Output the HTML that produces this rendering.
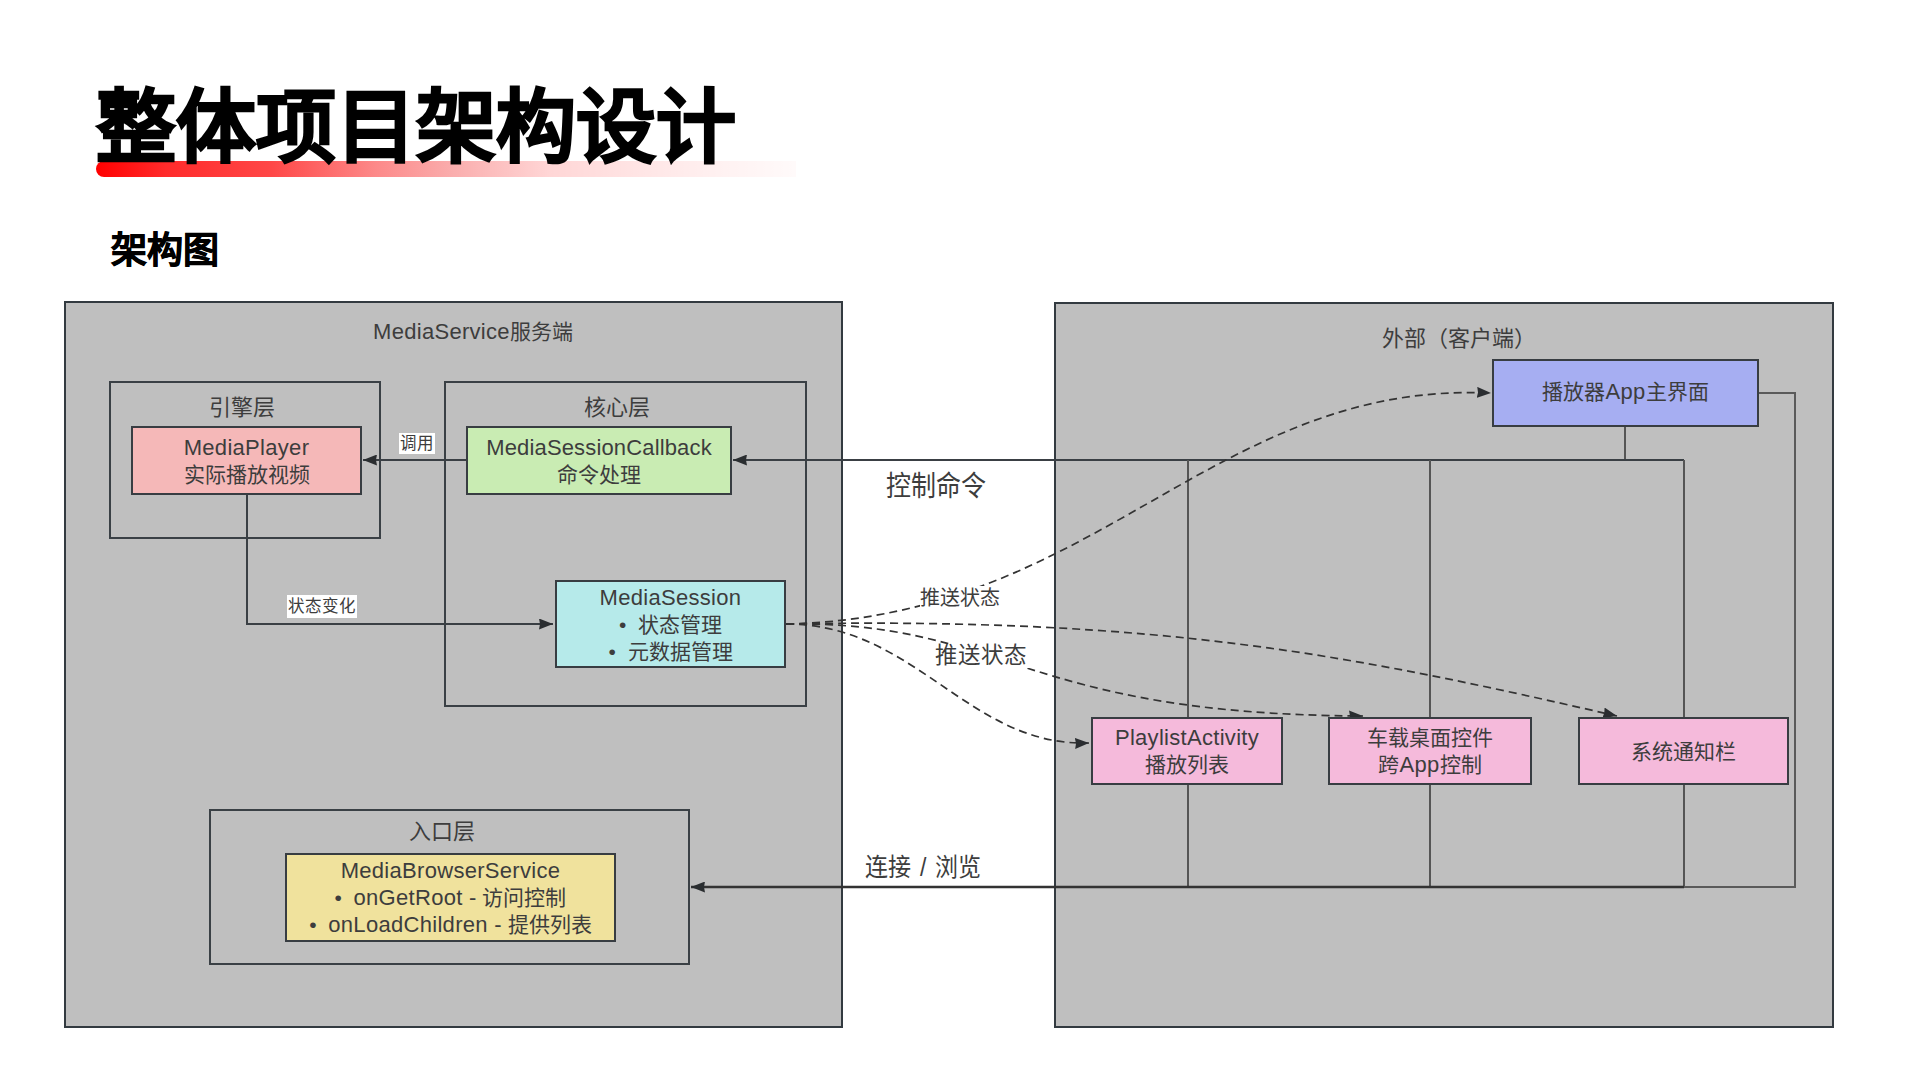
<!DOCTYPE html>
<html lang="zh-CN">
<head>
<meta charset="utf-8">
<style>
html,body{margin:0;padding:0;background:#fff;}
body{width:1912px;height:1073px;position:relative;overflow:hidden;font-family:"Liberation Sans",sans-serif;color:#333;}
.a{position:absolute;box-sizing:border-box;}
.title{position:absolute;left:96px;top:73px;font-size:80px;font-weight:900;color:#000;white-space:nowrap;line-height:110px;z-index:2;-webkit-text-stroke:1.8px #000;}
.bar{position:absolute;left:96px;top:161px;width:700px;height:16px;border-radius:8px 0 0 8px;background:linear-gradient(to right,rgba(255,0,0,1) 0%,rgba(255,20,20,0.9) 10%,rgba(255,0,0,0.72) 25%,rgba(250,20,20,0.5) 40%,rgba(240,0,0,0.32) 51%,rgba(255,0,0,0.16) 65%,rgba(255,0,0,0.1) 78%,rgba(255,0,0,0.05) 90%,rgba(255,0,0,0.02) 100%);z-index:1;}
.sub{position:absolute;left:111px;top:225px;font-size:36px;font-weight:bold;color:#000;line-height:52px;white-space:nowrap;-webkit-text-stroke:0.7px #000;}
.big{position:absolute;box-sizing:border-box;background:#bfbfbf;border:2px solid #333a40;}
.grp{position:absolute;box-sizing:border-box;border:2px solid #3a4045;}
.node{position:absolute;box-sizing:border-box;border:2px solid #383d42;display:flex;flex-direction:column;align-items:center;justify-content:center;font-size:21px;line-height:27px;color:#3d3d3d;text-align:center;white-space:nowrap;}
.lbl{position:absolute;font-size:21px;line-height:24px;color:#3d3d3d;white-space:nowrap;}
.en{font-size:22px;letter-spacing:0.3px;}
.tag{position:absolute;background:#fff;font-size:16.5px;line-height:22px;color:#3d3d3d;white-space:nowrap;padding:0 1px;}
svg{position:absolute;left:0;top:0;}
</style>
</head>
<body>
<div class="bar"></div>
<div class="title">整体项目架构设计</div>
<div class="sub">架构图</div>

<div class="big" style="left:64px;top:301px;width:779px;height:727px;"></div>
<div class="big" style="left:1054px;top:302px;width:780px;height:726px;"></div>

<div class="lbl" style="left:373px;top:320px;"><span class="en">MediaService</span>服务端</div>
<div class="lbl" style="left:1382px;top:327px;font-size:22px;">外部（客户端）</div>

<!-- groups -->
<div class="grp" style="left:109px;top:381px;width:272px;height:158px;"></div>
<div class="grp" style="left:444px;top:381px;width:363px;height:326px;"></div>
<div class="grp" style="left:209px;top:809px;width:481px;height:156px;"></div>
<div class="lbl" style="left:209px;top:396px;font-size:22px;">引擎层</div>
<div class="lbl" style="left:584px;top:396px;font-size:22px;">核心层</div>
<div class="lbl" style="left:409px;top:820px;font-size:22px;">入口层</div>

<svg width="1912" height="1073" viewBox="0 0 1912 1073">
  <defs>
    <marker id="ar" viewBox="0 0 14 11" refX="14" refY="5.5" markerWidth="14" markerHeight="11" markerUnits="userSpaceOnUse" orient="auto">
      <path d="M0,0 L14,5.5 L0,11 L1,5.5 Z" fill="#2a2d30"/>
    </marker>
  </defs>
  <g fill="none" stroke="#3a3f44" stroke-width="2">
    <!-- control command -->
    <path d="M1625,427 V460" stroke="#555"/>
    <path d="M1684,460 H733" marker-end="url(#ar)"/>
    <path d="M1188,460 V887 M1430,460 V887 M1684,460 V887" stroke="#555"/>
    <path d="M1759,393 H1795 V887 H1684" stroke="#5a5a5a"/>
    <path d="M1684,887 H691" stroke-width="2.4" stroke="#333" marker-end="url(#ar)"/>
    <!-- call -->
    <path d="M466,460 H363" marker-end="url(#ar)"/>
    <!-- state change -->
    <path d="M247,494 V624 H553" marker-end="url(#ar)"/>
  </g>
  <g fill="none" stroke="#333" stroke-width="1.7" stroke-dasharray="8 5">
    <path d="M786,624 C1096.8,617.8 1213.6,380.6 1491,393" marker-end="url(#ar)"/>
    <path d="M786,624 C1164.2,616.9 1355.6,656.1 1617,716" marker-end="url(#ar)"/>
    <path d="M786,624 C1007.3,620.9 1016.5,714.4 1363,716" marker-end="url(#ar)"/>
    <path d="M786,624 C916.1,623.9 968.0,746.7 1089,743" marker-end="url(#ar)"/>
  </g>
</svg>

<div class="tag" style="left:399px;top:433px;line-height:21px;">调用</div>
<div class="tag" style="left:287px;top:595px;line-height:23px;">状态变化</div>

<div class="node" style="left:131px;top:426px;width:231px;height:69px;background:#f5b8b8;"><div class="en">MediaPlayer</div><div>实际播放视频</div></div>
<div class="node" style="left:466px;top:426px;width:266px;height:69px;background:#c9ecb3;"><div class="en" style="letter-spacing:0.15px">MediaSessionCallback</div><div>命令处理</div></div>
<div class="node" style="left:555px;top:580px;width:231px;height:88px;background:#b6eaea;"><div class="en">MediaSession</div><div>•&nbsp; 状态管理</div><div>•&nbsp; 元数据管理</div></div>
<div class="node" style="left:285px;top:853px;width:331px;height:89px;background:#f0e29d;"><div class="en">MediaBrowserService</div><div>•&nbsp; <span class="en">onGetRoot -</span> 访问控制</div><div>•&nbsp; <span class="en">onLoadChildren -</span> 提供列表</div></div>

<div class="node" style="left:1492px;top:359px;width:267px;height:68px;background:#a6aef2;padding-bottom:3px;"><div>播放器<span class="en">App</span>主界面</div></div>
<div class="node" style="left:1091px;top:717px;width:192px;height:68px;background:#f5badb;"><div class="en">PlaylistActivity</div><div>播放列表</div></div>
<div class="node" style="left:1328px;top:717px;width:204px;height:68px;background:#f5badb;"><div>车载桌面控件</div><div>跨<span class="en">App</span>控制</div></div>
<div class="node" style="left:1578px;top:717px;width:211px;height:68px;background:#f5badb;"><div>系统通知栏</div></div>

<div class="lbl" style="left:886px;top:470px;font-size:25px;line-height:28px;transform:scaleY(1.12);transform-origin:0 0;">控制命令</div>
<div class="lbl" style="left:920px;top:586px;font-size:20px;background:#fff;padding-right:3px;">推送状态</div>
<div class="lbl" style="left:935px;top:644px;font-size:22.5px;background:#fff;padding-right:7px;">推送状态</div>
<div class="lbl" style="left:865px;top:854px;font-size:23px;word-spacing:2.5px;transform:scaleY(1.1);transform-origin:0 0;">连接 / 浏览</div>
</body>
</html>
